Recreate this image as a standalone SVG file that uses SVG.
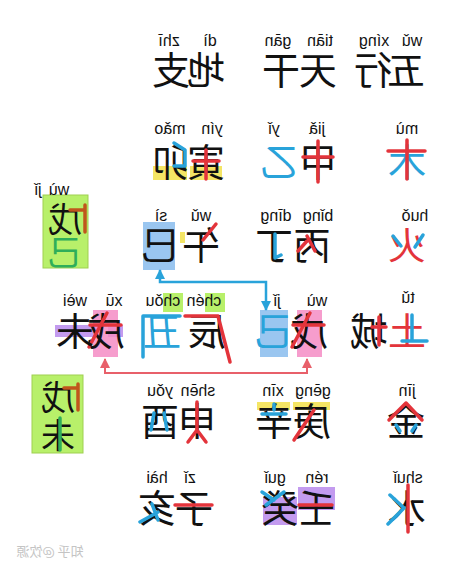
<svg xmlns="http://www.w3.org/2000/svg" width="474" height="569" viewBox="0 0 474 569">
<style>
.c{font-family:"Noto Sans CJK SC","Noto Sans CJK JP",sans-serif;font-size:38px;text-anchor:middle;fill:#111}
.s{font-size:34px}
.p{font-family:"Liberation Sans",Arial,sans-serif;font-size:16px;text-anchor:middle;fill:#111}
.R{fill:#e3343b}.B{fill:#29a3da}.G{fill:#2fae5a}
.r{stroke:#e3343b;stroke-width:3.5;fill:none;stroke-linecap:round;stroke-linejoin:round}
.b{stroke:#29a3da;stroke-width:3.5;fill:none;stroke-linecap:round;stroke-linejoin:round}
.o{stroke:#c0561c;stroke-width:3.5;fill:none;stroke-linecap:round}
.g{stroke:#2fae5a;stroke-width:3.5;fill:none;stroke-linecap:round}
.pk{fill:#f48cc4;opacity:.85}
.bl{fill:#8fc0ee;opacity:.9}
.yl{fill:#f2e04a;opacity:.85}
.gr{fill:#b8f06a;stroke:#9fd050;stroke-width:1}
.gh{fill:#b8f06a}
.pu{fill:#b889ec;opacity:.85}
.w{font-family:"Noto Sans CJK SC",sans-serif;font-size:13px;text-anchor:middle;fill:#c4c4c4}
</style>
<defs>
<marker id="ab" viewBox="0 0 10 10" refX="9" refY="5" markerWidth="10" markerHeight="10" markerUnits="userSpaceOnUse" orient="auto-start-reverse"><path d="M0,0L10,5L0,10z" fill="#29a3da"/></marker>
<marker id="ar" viewBox="0 0 10 10" refX="9" refY="5" markerWidth="10" markerHeight="10" markerUnits="userSpaceOnUse" orient="auto-start-reverse"><path d="M0,0L10,5L0,10z" fill="#e8606a"/></marker>
</defs>
<rect width="474" height="569" fill="#fff"/>
<g transform="matrix(-1 0 0 1 474 0)">
<g id="hdr-wuxing"><text class="p" x="62" y="46">wǔ</text><text class="p" x="100" y="46">xíng</text><text class="c" x="68" y="84">五</text><text class="c" x="101" y="84">行</text></g>
<g id="hdr-tiangan"><text class="p" x="154" y="46">tiān</text><text class="p" x="196" y="46">gān</text><text class="c" x="156" y="84">天</text><text class="c" x="193" y="84">干</text></g>
<g id="hdr-dizhi"><text class="p" x="264" y="46">dì</text><text class="p" x="305" y="46">zhī</text><text class="c" x="268" y="84">地</text><text class="c" x="303" y="84">支</text></g>

<g id="mu"><text class="p" x="67" y="134">mù</text><text class="c B" x="67" y="176">木</text><path class="r" d="M49,151H86M67,140V179"/></g>
<g id="jiayi"><text class="p" x="157" y="134">jiǎ</text><text class="p" x="200" y="134">yǐ</text><text class="c" x="156" y="176">甲</text><path class="r" d="M156,141V182M141,157H171"/><text class="c B" x="195" y="176">乙</text></g>
<g id="yinmao"><rect class="yl" x="252" y="166" width="32" height="14"/><rect class="yl" x="287" y="166" width="34" height="14"/><text class="p" x="262" y="134">yín</text><text class="p" x="304" y="134">mǎo</text><text class="c" x="268" y="176">寅</text><path class="r" d="M268,150V179M255,161H281"/><text class="c" x="303" y="176">卯</text><path class="b" d="M300,143L289,150V166H300"/></g>

<g id="huo"><text class="p" x="59" y="221">huǒ</text><text class="c R" x="67" y="259">火</text><path class="b" d="M81,236L73,246M51,235L59,247"/></g>
<g id="bingding"><text class="p" x="156" y="221">bǐng</text><text class="p" x="198" y="221">dīng</text><text class="c" x="162" y="259">丙</text><path class="r" d="M167,236L159,251M167,241L176,251"/><text class="c" x="200" y="259">丁</text><path class="b" d="M199,234V258L193,255"/></g>
<g id="wusi"><rect class="yl" x="289" y="232" width="5" height="11"/><rect class="bl" x="299" y="222" width="32" height="48"/><text class="p" x="273" y="221">wǔ</text><text class="p" x="313" y="221">sì</text><text class="c" x="273" y="259">午</text><path class="r" d="M258,224L271,240"/><text class="c" x="314" y="259">巳</text></g>

<g id="tu"><text class="p" x="66" y="303">tǔ</text><text class="c R" x="67" y="345">土</text><path class="b" d="M47,341H72M62,315V340"/><text class="c" x="105" y="345">城</text><path class="r" d="M95,317V345M88,327H102"/></g>
<g id="wuji"><rect class="pk" x="152" y="310" width="25" height="47"/><rect class="bl" x="186" y="310" width="28" height="47"/><text class="p" x="157" y="306">wù</text><text class="p" x="197" y="306">jǐ</text><text class="c" x="165" y="345">戊</text><path class="r" d="M164,313L182,347M150,325H181"/><text class="c B" x="200" y="345">己</text></g>
<g id="chenchou"><rect class="gh" x="249" y="293" width="20" height="19"/><rect class="gh" x="291" y="293" width="20" height="19"/><text class="p" x="270" y="306">chén</text><text class="p" x="311" y="306">chǒu</text><text class="c" x="267" y="345">辰</text><path class="r" d="M289,316H256L244,362"/><text class="c B" x="312" y="345">丑</text><path class="b" d="M294,316H331V357"/></g>
<g id="xuwei"><rect class="pu" x="374" y="325" width="45" height="12"/><rect class="pu" x="351" y="325" width="15" height="12"/><rect class="pk" x="356" y="310" width="25" height="47"/><text class="p" x="360" y="306">xū</text><text class="p" x="399" y="306">wèi</text><text class="c" x="368" y="345">戌</text><path class="r" d="M367,313L385,347M353,325H384"/><text class="c" x="399" y="345">未</text></g>

<g id="wuji-left"><rect class="gr" x="386" y="195" width="45" height="73"/><text class="p" x="415" y="195">wù</text><text class="p" x="436" y="195">jǐ</text><text class="c s" x="409" y="232">戊</text><path class="o" d="M389,205V232M389,210H404"/><text class="c s G" x="409" y="265">己</text></g>
<g id="wuwei-left"><rect class="gr" x="391" y="375" width="51" height="78"/><text class="c s" x="416" y="410">戊</text><path class="o" d="M396,384V410M396,388H410"/><text class="c s" x="416" y="448">未</text><path class="g" d="M414,418V450"/></g>

<g id="jin"><text class="p" x="67" y="396">jīn</text><text class="c" x="68" y="435">金</text><path class="r" d="M68,403L52,420M68,403L85,420"/><path class="b" d="M58,425L62,431M78,425L74,431"/></g>
<g id="gengxin"><rect class="yl" x="144" y="402" width="37" height="8"/><rect class="yl" x="184" y="402" width="33" height="8"/><text class="p" x="161" y="396">gēng</text><text class="p" x="201" y="396">xīn</text><text class="c" x="162" y="435">庚</text><path class="r" d="M160,410L180,440"/><text class="c" x="200" y="435">辛</text><path class="b" d="M200,404V410M188,414H212"/></g>
<g id="shenyou"><text class="p" x="276" y="396">shēn</text><text class="p" x="314" y="396">yǒu</text><text class="c" x="277" y="435">申</text><path class="r" d="M277,402V430L268,442M277,430L286,442"/><text class="c" x="314" y="435">酉</text><path class="b" d="M310,413L307,430M320,413L323,430"/></g>

<g id="shui"><text class="p" x="66" y="483">shuǐ</text><text class="c" x="67" y="522">水</text><path class="r" d="M66,485V532"/><path class="b" d="M70,508L84,495M70,508L86,524"/></g>
<g id="rengui"><rect class="pu" x="139" y="487" width="37" height="23"/><rect class="pu" x="177" y="497" width="34" height="28"/><text class="p" x="157" y="483">rén</text><text class="p" x="199" y="483">guǐ</text><text class="c" x="158" y="522">壬</text><path class="r" d="M142,505H175"/><text class="c" x="194" y="522">癸</text><path class="b" d="M190,492L208,505M200,500L212,492"/></g>
<g id="zihai"><text class="p" x="284" y="483">zǐ</text><text class="p" x="317" y="483">hài</text><text class="c" x="280" y="522">子</text><path class="r" d="M262,505H299"/><text class="c" x="317" y="522">亥</text><path class="b" d="M316,512L334,522M322,504L316,520"/></g>

<g id="connectors">
<path d="M314,270V282H208V310" fill="none" stroke="#29a3da" stroke-width="2.5" marker-start="url(#ab)" marker-end="url(#ab)"/>
<path d="M369,359V373H167V359" fill="none" stroke="#e8606a" stroke-width="2" marker-start="url(#ar)" marker-end="url(#ar)"/>
</g>
<text class="w" x="424" y="556">知乎 @饮源</text>
</g>
</svg>
